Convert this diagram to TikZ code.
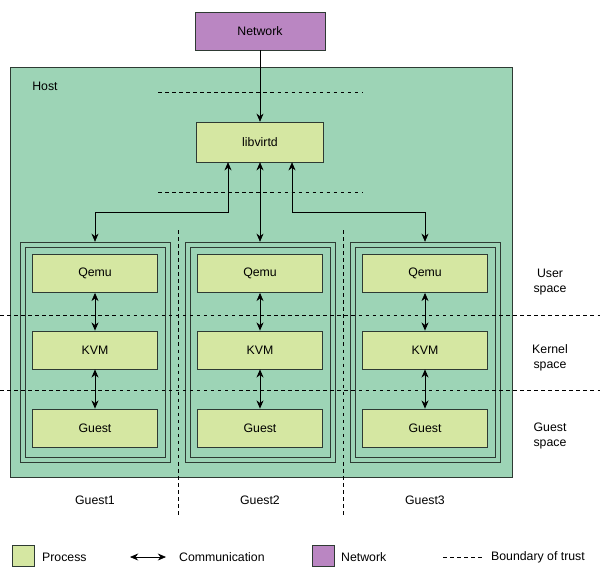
\documentclass[tikz,border=0pt]{standalone}
\usepackage{fontspec}
\setmainfont{Liberation Sans}
\usetikzlibrary{arrows.meta}
\definecolor{hostc}{HTML}{9DD4B6}
\definecolor{procc}{HTML}{D5E7A2}
\definecolor{netc}{HTML}{BA86C2}
\definecolor{edge}{HTML}{2E3A33}
\begin{document}
\begin{tikzpicture}[x=0.03cm,y=-0.03cm,font=\fontsize{10.5}{12.5}\selectfont,
  proc/.style={draw=edge,fill=procc,minimum width=3.75cm,minimum height=1.15cm,inner sep=0pt},
  net/.style={draw=edge,fill=netc,inner sep=0pt},
  col/.style={draw=edge},
  trust/.style={dashed,semithick},
  comm/.style={{Stealth[length=7pt,width=6pt]}-{Stealth[length=7pt,width=6pt]},semithick}]
\useasboundingbox (0,0) rectangle (600,577);
\node[net,minimum width=3.9cm,minimum height=1.14cm] (net) at (260,31) {Network};
\draw[edge,fill=hostc] (10,67) rectangle (512,477);
\node at (45,86) (host) {Host};
\draw[trust] (158,92) -- (362,92);
\draw[trust] (158,192) -- (362,192);
\node[proc,minimum width=3.8cm,minimum height=1.2cm] (lib) at (260,142) {libvirtd};
\foreach \i/\cx in {1/95,2/260,3/425}{
  \node[col,minimum width=4.5cm,minimum height=6.6cm,inner sep=0pt] (o\i) at (\cx,352) {};
  \node[col,minimum width=4.2cm,minimum height=6.3cm,inner sep=0pt] (in\i) at (\cx,352) {};
  \node[proc] (q\i) at (\cx,273.5) {Qemu};
  \node[proc] (k\i) at (\cx,350) {KVM};
  \node[proc] (g\i) at (\cx,428) {Guest};
  \draw[comm] (q\i) -- (k\i);
  \draw[comm] (k\i) -- (g\i);
  \node (lab\i) at (\cx,500) {Guest\i};
}
\draw[-{Stealth[length=7pt,width=6pt]},semithick] (net) -- (lib);
\draw[comm] ([xshift=-0.96cm]lib.south) |- (95,212) -- (o1.north);
\draw[comm] (lib) -- (o2);
\draw[comm] ([xshift=0.96cm]lib.south) |- (425,212) -- (o3.north);
\draw[trust] (178,230) -- (178,515);
\draw[trust] (343,230) -- (343,515);
\draw[trust] (0,315) -- (600,315);
\draw[trust] (0,390) -- (600,390);
\node[align=center] (us) at (550,282) {User\\space};
\node[align=center] (ks) at (550,358) {Kernel\\space};
\node[align=center] (gs) at (550,436) {Guest\\space};
\node[proc,minimum width=0.66cm,minimum height=0.63cm] (lp) at (23,556) {};
\node[anchor=west] (lpt) at (38,557) {Process};
\coordinate (ca) at (130,557); \coordinate (cb) at (166,557);
\draw[comm] (ca) -- (cb);
\node[anchor=west] (lct) at (175,557) {Communication};
\node[net,minimum width=0.66cm,minimum height=0.63cm] (ln) at (323,556) {};
\node[anchor=west] (lnt) at (337,557) {Network};
\coordinate (da) at (443,557); \coordinate (db) at (482,557);
\draw[trust] (da) -- (db);
\node[anchor=west] (ldt) at (487,557) {Boundary of trust};
\end{tikzpicture}
\end{document}
